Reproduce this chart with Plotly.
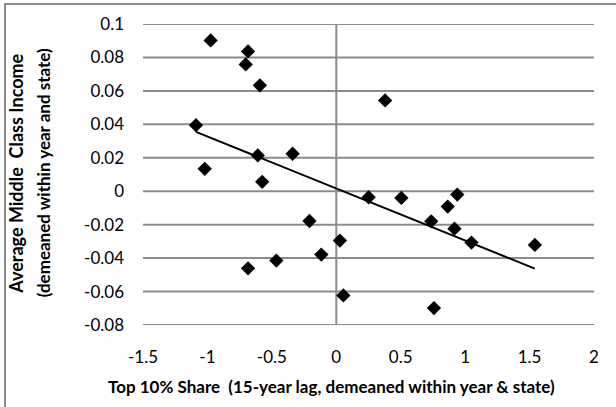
import numpy as np
import plotly.graph_objects as go

# Data
top10_share = [-0.975, -0.685, -0.703, -0.593, 0.379, -1.089, -1.021, -0.609, -0.339, -0.575,
               0.251, 0.505, 0.939, 0.865, -0.208, 0.737, 0.917, 1.049, 0.028, 1.541,
               -0.116, -0.465, -0.685, 0.055, 0.758]
middle_income = [0.0902, 0.0836, 0.0758, 0.0633, 0.0543, 0.0395, 0.0134, 0.0214, 0.0224, 0.0056,
                 -0.0036, -0.0040, -0.0020, -0.0092, -0.0178, -0.0180, -0.0224, -0.0307, -0.0295, -0.0321,
                 -0.0379, -0.0415, -0.0461, -0.0623, -0.0699]
x_ticks = [-1.5, -1, -0.5, 0, 0.5, 1, 1.5, 2]
x_tick_labels = ["-1.5", "-1", "-0.5", "0", "0.5", "1", "1.5", "2"]
y_ticks = [-0.08, -0.06, -0.04, -0.02, 0, 0.02, 0.04, 0.06, 0.08, 0.1]
y_tick_labels = ["-0.08", "-0.06", "-0.04", "-0.02", "0", "0.02", "0.04", "0.06", "0.08", "0.1"]

# Linear trendline (least squares fit)
slope, intercept = np.polyfit(top10_share, middle_income, 1)
trend_x = [min(top10_share), max(top10_share)]
trend_y = [slope * v + intercept for v in trend_x]

W, H = 616, 407
L, R, T, B = 143, 22, 23.5, 82
pw, ph = W - L - R, H - T - B

def px_to_paper_x(px):
    return (px - L) / pw

def px_to_paper_y(py):
    return (H - B - py) / ph

font = "Lato, 'Open Sans', Arial, sans-serif"
grid_color = "#8c8c8c"

shapes = [
    dict(type="line", xref="paper", yref="y", x0=0, x1=1, y0=v, y1=v,
         line=dict(color=grid_color, width=2), layer="below")
    for v in y_ticks
]
shapes += [
    dict(type="line", xref="x", yref="paper", x0=0, x1=0, y0=0, y1=1,
         line=dict(color=grid_color, width=2), layer="below"),
    dict(type="rect", xref="paper", yref="paper",
         x0=px_to_paper_x(5), x1=px_to_paper_x(630), y0=px_to_paper_y(420), y1=px_to_paper_y(3.5),
         line=dict(color=grid_color, width=2), fillcolor="rgba(0,0,0,0)", layer="below"),
]

fig = go.Figure()
fig.add_trace(go.Scatter(x=trend_x, y=trend_y, mode="lines",
                         line=dict(color="black", width=2), hoverinfo="skip", showlegend=False))
fig.add_trace(go.Scatter(x=top10_share, y=middle_income, mode="markers",
                         marker=dict(symbol="diamond", size=11, color="black"), showlegend=False))

fig.update_layout(
    width=W, height=H,
    margin=dict(l=L, r=R, t=T, b=B, pad=0),
    paper_bgcolor="white", plot_bgcolor="white",
    font=dict(family=font, size=17, color="black"),
    xaxis=dict(range=[-1.5, 2], tickvals=x_ticks, ticktext=x_tick_labels, showgrid=False, zeroline=False,
               showline=False, ticks="", ticklabelstandoff=20, tickfont=dict(size=17)),
    yaxis=dict(range=[-0.08, 0.1], tickvals=y_ticks, ticktext=y_tick_labels,
               showgrid=False, zeroline=False,
               showline=False, ticks="", ticklabelstandoff=18, tickfont=dict(size=17)),
    annotations=[
        dict(text="<b>Top 10% Share  (15-year lag, demeaned within year &amp; state)</b>",
             x=px_to_paper_x(331), y=px_to_paper_y(387), xref="paper", yref="paper",
             showarrow=False, xanchor="center", yanchor="middle", font=dict(size=17)),
        dict(text="<b>Average Middle  Class Income</b>",
             x=px_to_paper_x(16.5), y=px_to_paper_y(173), xref="paper", yref="paper",
             showarrow=False, textangle=-90, xanchor="center", yanchor="middle", font=dict(size=18)),
        dict(text="<b>(demeaned within year and state)</b>",
             x=px_to_paper_x(43), y=px_to_paper_y(173), xref="paper", yref="paper",
             showarrow=False, textangle=-90, xanchor="center", yanchor="middle", font=dict(size=17)),
    ],
    shapes=shapes,
)

fig.write_html("out.html", config={"displayModeBar": False},
               post_script="document.body.style.margin='0';")
